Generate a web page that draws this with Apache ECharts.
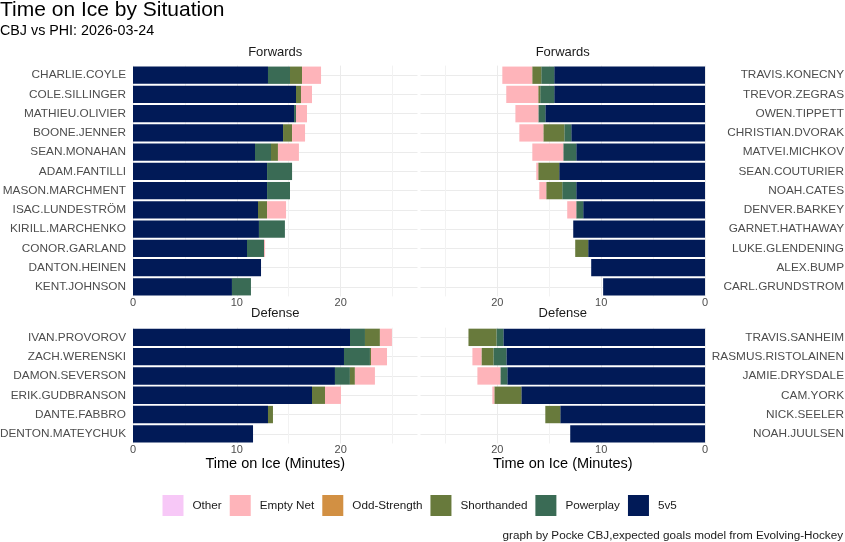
<!DOCTYPE html>
<html>
<head>
<meta charset="utf-8">
<script src="https://cdn.jsdelivr.net/npm/echarts@6/dist/echarts.min.js"></script>
<style>
html,body{margin:0;padding:0;background:#fff;}
#chart{width:845px;height:542px;}
</style>
</head>
<body>
<div id="chart"></div>
<script>
// ---------------- DATA ----------------
var situations = ['5v5', 'Powerplay', 'Shorthanded', 'Odd-Strength', 'Empty Net', 'Other'];
var legendOrder = ['Other', 'Empty Net', 'Odd-Strength', 'Shorthanded', 'Powerplay', '5v5'];
var xTicks = [0, 10, 20];

var fwdCBJ = ['CHARLIE.COYLE','COLE.SILLINGER','MATHIEU.OLIVIER','BOONE.JENNER','SEAN.MONAHAN','ADAM.FANTILLI','MASON.MARCHMENT','ISAC.LUNDESTRÖM','KIRILL.MARCHENKO','CONOR.GARLAND','DANTON.HEINEN','KENT.JOHNSON'];
var fwdCBJ_5v5 = [13.00,15.70,15.51,14.45,11.75,12.91,12.91,12.04,12.13,10.98,12.33,9.53];
var fwdCBJ_PP  = [2.12,0,0.19,0,1.54,2.41,2.21,0,2.50,1.64,0,1.83];
var fwdCBJ_SH  = [1.16,0.48,0,0.87,0.67,0,0,0.87,0,0,0,0];
var fwdCBJ_ODD = [0,0,0,0,0,0,0,0,0,0,0,0];
var fwdCBJ_EN  = [1.83,1.06,1.06,1.25,2.02,0,0,1.83,0,0.10,0,0];
var fwdCBJ_OTH = [0,0,0,0,0,0,0,0,0,0,0,0];

var fwdPHI = ['TRAVIS.KONECNY','TREVOR.ZEGRAS','OWEN.TIPPETT','CHRISTIAN.DVORAK','MATVEI.MICHKOV','SEAN.COUTURIER','NOAH.CATES','DENVER.BARKEY','GARNET.HATHAWAY','LUKE.GLENDENING','ALEX.BUMP','CARL.GRUNDSTROM'];
var fwdPHI_5v5 = [14.52,14.52,15.38,12.88,12.40,14.04,12.40,11.73,12.69,11.25,10.96,9.81];
var fwdPHI_PP  = [1.25,1.35,0.67,0.67,1.25,0,1.35,0.67,0,0,0,0];
var fwdPHI_SH  = [0.87,0.19,0,2.02,0,2.02,1.54,0,0,1.25,0,0];
var fwdPHI_ODD = [0,0,0,0,0,0,0,0,0,0,0,0];
var fwdPHI_EN  = [2.88,3.08,2.21,2.31,2.98,0.19,0.67,0.87,0,0,0,0];
var fwdPHI_OTH = [0,0,0,0,0,0,0,0,0,0,0,0];

var defCBJ = ['IVAN.PROVOROV','ZACH.WERENSKI','DAMON.SEVERSON','ERIK.GUDBRANSON','DANTE.FABBRO','DENTON.MATEYCHUK'];
var defCBJ_5v5 = [20.90,20.32,19.45,17.24,13.00,11.56];
var defCBJ_PP  = [1.44,2.50,1.44,0,0,0];
var defCBJ_SH  = [1.44,0.10,0.48,1.25,0.48,0];
var defCBJ_ODD = [0,0,0,0,0,0];
var defCBJ_EN  = [1.16,1.54,1.93,1.54,0,0];
var defCBJ_OTH = [0,0,0,0,0,0];

var defPHI = ['TRAVIS.SANHEIM','RASMUS.RISTOLAINEN','JAMIE.DRYSDALE','CAM.YORK','NICK.SEELER','NOAH.JUULSEN'];
var defPHI_5v5 = [19.42,19.13,19.04,17.69,13.94,12.98];
var defPHI_PP  = [0.67,1.25,0.67,0,0,0];
var defPHI_SH  = [2.69,1.15,0,2.60,1.44,0];
var defPHI_ODD = [0,0,0,0,0,0];
var defPHI_EN  = [0,0.87,2.21,0.19,0,0];
var defPHI_OTH = [0,0,0,0,0,0];

// ---------------- STYLE ----------------
var FONT = '"Liberation Sans", Arial, Helvetica, sans-serif';
var colors = {
  '5v5': '#011A57',
  'Powerplay': '#3A6B55',
  'Shorthanded': '#687A3C',
  'Odd-Strength': '#D29043',
  'Empty Net': '#FEB4BA',
  'Other': '#F7C8F7'
};
var XMAX = 27.4;

var panels = [
  {cats: fwdCBJ, vals: [fwdCBJ_5v5, fwdCBJ_PP, fwdCBJ_SH, fwdCBJ_ODD, fwdCBJ_EN, fwdCBJ_OTH], side: 'left'},
  {cats: fwdPHI, vals: [fwdPHI_5v5, fwdPHI_PP, fwdPHI_SH, fwdPHI_ODD, fwdPHI_EN, fwdPHI_OTH], side: 'right'},
  {cats: defCBJ, vals: [defCBJ_5v5, defCBJ_PP, defCBJ_SH, defCBJ_ODD, defCBJ_EN, defCBJ_OTH], side: 'left'},
  {cats: defPHI, vals: [defPHI_5v5, defPHI_PP, defPHI_SH, defPHI_ODD, defPHI_EN, defPHI_OTH], side: 'right'}
];
var gridBoxes = [
  {left: 133, top: 65.6, width: 284.5, height: 230.8},
  {left: 420.5, top: 65.6, width: 284.5, height: 230.8},
  {left: 133, top: 327.7, width: 284.5, height: 115.8},
  {left: 420.5, top: 327.7, width: 284.5, height: 115.8}
];

var grids = [], xAxes = [], yAxes = [], series = [];
panels.forEach(function (p, i) {
  var g = gridBoxes[i];
  grids.push({left: g.left, top: g.top, width: g.width, height: g.height,
    containLabel: false, outerBoundsMode: 'none'});
  var right = p.side === 'right';
  xAxes.push({
    type: 'value', gridIndex: i, min: 0, max: XMAX, interval: 5, inverse: right,
    axisLine: {show: false}, axisTick: {show: false},
    axisLabel: {
      show: true, margin: 1, color: '#4D4D4D', fontSize: 11, fontFamily: FONT,
      formatter: function (v) { return xTicks.indexOf(v) >= 0 ? String(v) : ''; }
    },
    splitLine: {show: true, lineStyle: {width: 1,
      color: ['#EBEBEB', '#F2F2F2', '#EBEBEB', '#F2F2F2', '#EBEBEB', '#F2F2F2', 'rgba(0,0,0,0)']}}
  });
  yAxes.push({
    type: 'category', gridIndex: i, data: p.cats, inverse: true,
    position: right ? 'right' : 'left',
    axisLine: {show: false}, axisTick: {show: false},
    axisLabel: {
      interval: 0, color: '#4D4D4D', fontSize: 11.8, fontFamily: FONT,
      margin: right ? 139 : 7, align: 'right'
    },
    splitLine: {show: true, alignWithLabel: true, interval: 0, lineStyle: {color: '#EBEBEB', width: 1}}
  });
  situations.forEach(function (s, k) {
    series.push({
      type: 'bar', name: s, xAxisIndex: i, yAxisIndex: i, stack: 'p' + i,
      data: p.vals[k], barCategoryGap: '10%',
      itemStyle: {color: colors[s]},
      emphasis: {disabled: true}, silent: true
    });
  });
});

function txt(text, x, y, size, align, color) {
  return {type: 'text', x: x, y: y, silent: true, style: {
    text: text, fontSize: size, fontFamily: FONT, fill: color || '#000',
    align: align, textAlign: align, verticalAlign: 'middle', textVerticalAlign: 'middle'
  }};
}

var option = {
  animation: false,
  backgroundColor: '#fff',
  grid: grids, xAxis: xAxes, yAxis: yAxes, series: series,
  legend: {
    data: legendOrder, left: 162.5, top: 495, padding: 0,
    itemWidth: 21, itemHeight: 21, itemGap: 8,
    icon: 'rect', selectedMode: false,
    textStyle: {fontSize: 11.7, fontFamily: FONT, color: '#1A1A1A', padding: [0, 0, 0, 4]}
  },
  graphic: [
    txt('Time on Ice by Situation', 0, 10.5, 21, 'left', '#000'),
    txt('CBJ vs PHI: 2026-03-24', 0, 31.5, 14.3, 'left', '#000'),
    txt('Forwards', 275.25, 52.3, 13, 'center', '#1A1A1A'),
    txt('Forwards', 562.75, 52.3, 13, 'center', '#1A1A1A'),
    txt('Defense', 275.25, 313.3, 13, 'center', '#1A1A1A'),
    txt('Defense', 562.75, 313.3, 13, 'center', '#1A1A1A'),
    txt('Time on Ice (Minutes)', 275.25, 463.5, 14.5, 'center', '#000'),
    txt('Time on Ice (Minutes)', 562.75, 463.5, 14.5, 'center', '#000'),
    txt('graph by Pocke CBJ,expected goals model from Evolving-Hockey', 843, 535.7, 11.7, 'right', '#1A1A1A')
  ]
};

var chart = echarts.init(document.getElementById('chart'), null, {renderer: 'canvas'});
chart.setOption(option);
</script>
</body>
</html>
